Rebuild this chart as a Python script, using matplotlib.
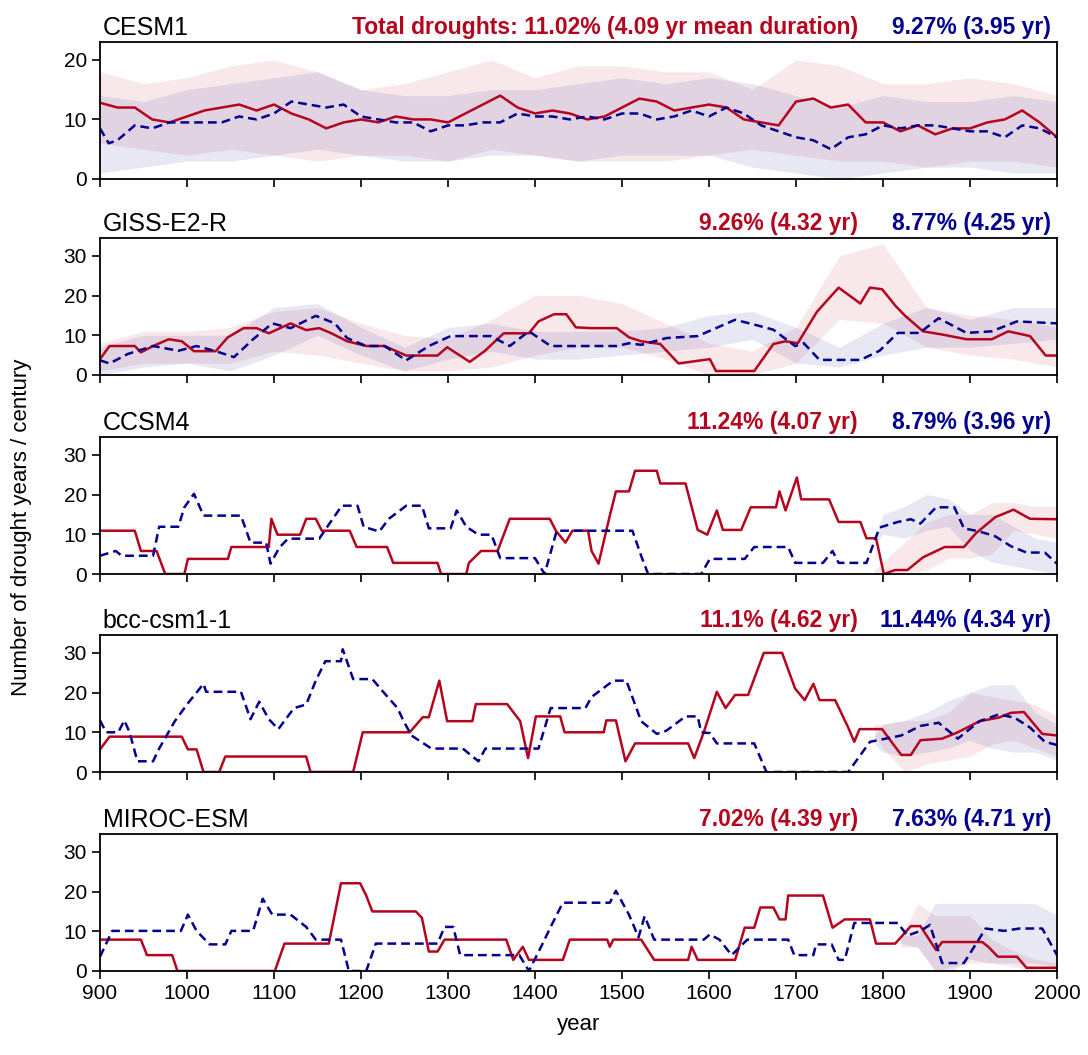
"""Drought years per century, five last-millennium models"""
import numpy as np, matplotlib
matplotlib.use('Agg')
import matplotlib.pyplot as plt
plt.rcParams.update({'font.family':['Liberation Sans','DejaVu Sans'],'font.size':15,'axes.linewidth':1.3})
RED='#b5051e'; BLUE='#02028f'

# ---- data: (year, value) vertices ----
cesm_red=[(900,12.8),(920,12),(940,12),(960,10),(980,9.5),(1000,10.5),(1020,11.5),(1040,12),(1060,12.5),(1080,11.5),(1100,12.5),(1120,11),(1140,10),(1160,8.5),(1180,9.5),(1200,10),(1220,9.5),(1240,10.5),(1260,10),(1280,10),(1300,9.5),(1320,11),(1340,12.5),(1360,14),(1380,12),(1400,11),(1420,11.5),(1440,11),(1460,10),(1480,10.5),(1500,12),(1520,13.5),(1540,13),(1560,11.5),(1580,12),(1600,12.5),(1620,12),(1640,10),(1660,9.5),(1680,9),(1700,13),(1720,13.5),(1740,12),(1760,12.5),(1780,9.5),(1800,9.5),(1820,8),(1840,9),(1860,7.5),(1880,8.5),(1900,8.5),(1920,9.5),(1940,10),(1960,11.5),(1980,9.5),(2000,7)]
cesm_blue=[(900,8.5),(910,6),(920,6.5),(940,9),(960,8.5),(980,9.5),(1000,9.5),(1020,9.5),(1040,9.5),(1060,10.5),(1080,10),(1100,11),(1120,13),(1140,12.5),(1160,12),(1180,12.5),(1200,10.5),(1220,10),(1240,9.5),(1260,9.5),(1280,8),(1300,9),(1320,9),(1340,9.5),(1360,9.5),(1380,11),(1400,10.5),(1420,10.5),(1440,10),(1460,10.5),(1480,10),(1500,11),(1520,11),(1540,10),(1560,10.5),(1580,11.5),(1600,10.5),(1620,12),(1640,11),(1660,9),(1680,8),(1700,7),(1720,6.5),(1740,5),(1760,7),(1780,7.5),(1800,9),(1820,8.5),(1840,9),(1860,9),(1880,8.5),(1900,8),(1920,8),(1940,7),(1960,9),(1980,8.5),(2000,7)]
band_yr=list(range(900,2001,50))
cesm_red_hi=[18,16,17,19,20,18,15,16,18,20,17,19,19,18,18,15,20,19,16,16,17,16,14]
cesm_red_lo=[6,5,4,5,4,3,4,4,3,5,4,3,3,3,4,5,4,3,3,2,3,3,2]
cesm_blue_hi=[14,13,15,16,17,18,15,14,14,15,15,16,17,16,17,16,14,12,14,13,13,14,13]
cesm_blue_lo=[1,2,3,3,4,5,4,3,3,4,4,3,4,4,4,2,1,0,1,2,2,1,1]

giss_red=[(900,4),(911,7.3),(940,7.3),(947,5.7),(961,7.3),(979,9),(994,8.5),(1008,6),(1033,6),(1047,9.5),(1065,11.8),(1080,11.8),(1094,10.5),(1119,13),(1137,11.3),(1152,11.8),(1166,10.5),(1184,8.5),(1206,7.3),(1227,7.3),(1252,4.9),(1288,4.9),(1299,7),(1325,3.3),(1342,6),(1364,10.5),(1393,10.5),(1404,13.5),(1422,15.3),(1436,15.3),(1447,12),(1465,11.8),(1494,11.8),(1508,9.5),(1522,8.5),(1544,7.8),(1565,2.9),(1601,4),(1608,1),(1652,1),(1674,7.8),(1688,8.5),(1702,8),(1724,15.9),(1749,22),(1774,18),(1785,22),(1799,21.6),(1814,17.5),(1825,15),(1846,11),(1868,10.2),(1896,9),(1925,9),(1944,11),(1969,9.8),(1987,4.9),(2000,4.9)]
giss_blue=[(900,3.7),(911,2.9),(932,5.3),(961,7.3),(990,6.1),(1011,7.3),(1033,6),(1054,4.5),(1076,9),(1098,13),(1119,11.8),(1148,14.9),(1170,13),(1184,9.3),(1206,7.3),(1227,7.3),(1252,3.7),(1278,7.3),(1303,9.8),(1349,9.8),(1371,7.3),(1393,11),(1418,7.3),(1494,7.3),(1508,8),(1522,7.6),(1551,9.3),(1587,9.8),(1630,13.9),(1652,12.7),(1674,11.4),(1699,7.3),(1709,8),(1727,3.8),(1774,3.8),(1796,6.1),(1817,10.6),(1842,10.6),(1864,14.3),(1896,10.6),(1925,11),(1954,13.5),(2000,13)]
giss_red_hi=[8,11,11,12,16,17,13,10,9,14,20,20,18,13,8,6,12,30,33,17,15,14,12]
giss_red_lo=[1,3,3,3,6,5,3,1,1,2,5,7,7,4,0,0,3,14,13,7,5,4,2]
giss_blue_hi=[7,10,10,10,17,18,12,7,12,13,11,11,11,12,15,16,12,7,13,17,14,17,17]
giss_blue_lo=[0,2,3,1,5,10,5,1,4,6,4,4,5,6,7,9,3,2,5,7,7,8,9]

ccsm_red=[(900,10.9),(940,10.9),(947,5.8),(965,5.8),(975,0),(997,0),(1001,3.8),(1047,3.8),(1051,6.8),(1094,6.8),(1097,13.9),(1104,9.9),(1130,9.9),(1137,13.9),(1148,13.9),(1155,10.9),(1187,10.9),(1195,6.8),(1230,6.8),(1237,2.8),(1288,2.8),(1292,0),(1321,0),(1324,2.8),(1338,5.8),(1357,5.8),(1371,13.9),(1417,13.9),(1424,10.9),(1435,7.9),(1443,10.9),(1461,10.9),(1465,5.8),(1473,2.6),(1486,14.7),(1493,20.8),(1508,20.8),(1515,26),(1540,26),(1544,22.8),(1573,22.8),(1587,11.1),(1598,9.9),(1609,16),(1616,11.1),(1637,11.1),(1648,16.8),(1677,16.8),(1681,20.8),(1688,16),(1701,24.3),(1706,18.8),(1738,18.8),(1749,13.1),(1774,13.1),(1781,9),(1792,9),(1801,0),(1814,1),(1828,1),(1846,4.2),(1871,6.8),(1893,6.8),(1907,10.3),(1929,14.3),(1950,16.2),(1969,13.9),(2000,13.8)]
ccsm_blue=[(900,4.6),(918,5.8),(925,4.6),(961,4.6),(968,11.9),(990,11.9),(997,16.8),(1008,20.2),(1019,14.7),(1062,14.7),(1073,7.9),(1091,7.9),(1096,2.6),(1106,6.6),(1116,8.9),(1152,8.9),(1160,11.5),(1178,17.2),(1196,17.2),(1203,11.9),(1221,10.7),(1232,13.9),(1252,17.2),(1270,17.2),(1278,11.5),(1303,11.5),(1310,16),(1321,11.9),(1335,9.9),(1350,9.9),(1360,4),(1400,4),(1411,0),(1425,10.9),(1512,10.9),(1522,4.6),(1530,0),(1591,0),(1601,3.8),(1641,3.8),(1652,6.8),(1691,6.8),(1699,2.8),(1731,2.8),(1742,5.8),(1749,2.8),(1781,2.8),(1796,11.7),(1817,13.1),(1832,13.8),(1843,12.7),(1861,16.8),(1882,16.8),(1893,11.5),(1911,10.7),(1929,9.5),(1947,7),(1965,5.4),(1986,5.4),(2000,2.6)]
late_yr=[1790,1800,1825,1850,1875,1900,1925,1950,1975,2000]
ccsm_red_hi=[1,3,8,13,15,15,18,18,17,17]
ccsm_red_lo=[0,0,0,1,4,4,5,11,10,9]
ccsm_blue_hi=[9,15,17,20,19,15,15,12,9,8]
ccsm_blue_lo=[7,10,9,11,12,6,3,2,1,0]

bcc_red=[(900,5.7),(911,8.9),(994,8.9),(1001,5.7),(1011,5.7),(1019,0),(1037,0),(1044,3.9),(1137,3.9),(1142,0),(1191,0),(1202,10),(1256,10),(1271,13.8),(1278,13.8),(1290,23),(1299,12.8),(1328,12.8),(1332,17.1),(1368,17.1),(1383,12.8),(1392,3.5),(1401,14),(1429,14),(1434,10),(1479,10),(1482,13),(1493,13),(1504,2.7),(1515,7.2),(1576,7.2),(1583,3.5),(1594,10),(1609,20.2),(1619,16.1),(1630,19.4),(1645,19.4),(1663,30),(1684,30),(1699,21),(1710,18.1),(1720,22.2),(1727,18.1),(1745,18.1),(1760,11.2),(1767,7.6),(1773,10.8),(1799,10.8),(1807,8.4),(1821,4.3),(1832,4.3),(1843,8),(1868,8.4),(1886,10),(1911,12.8),(1933,13.7),(1947,14.9),(1962,15.1),(1983,9.6),(2000,9.2)]
bcc_blue=[(900,13),(907,10),(921,10),(928,13),(934,10),(943,2.7),(961,2.7),(968,5.9),(986,12.8),(1001,17.3),(1019,22.2),(1022,20.2),(1062,20.2),(1073,13.3),(1083,17.7),(1094,13.3),(1105,10.8),(1123,16.1),(1137,17),(1148,23),(1159,27.9),(1177,27.9),(1179,30.9),(1191,23.4),(1213,23.4),(1227,19.8),(1242,16.1),(1249,12.8),(1258,9.2),(1281,5.9),(1317,5.9),(1335,2.7),(1343,5.9),(1404,5.9),(1418,16.1),(1458,16.1),(1465,18.9),(1490,23),(1505,23),(1522,12.8),(1540,9.6),(1551,10.4),(1573,14),(1587,14),(1591,10),(1601,9.8),(1609,7.2),(1652,7.2),(1666,0),(1760,0),(1785,7.6),(1803,8.4),(1821,9.2),(1843,11.6),(1864,12.4),(1886,8.4),(1911,12.8),(1933,14.5),(1951,13.7),(1969,11.2),(1986,7.6),(2000,6.8)]
bcc_red_hi=[12,12,13,13,15,20,19,18,17,14]
bcc_red_lo=[9,6,0,2,3,4,7,8,6,4]
bcc_blue_hi=[9,12,13,15,18,20,22,22,15,12]
bcc_blue_lo=[7,5,4,5,6,8,6,5,5,3]

miroc_red=[(900,7.9),(947,7.9),(954,4),(983,4),(989,0),(1101,0),(1112,6.9),(1163,6.9),(1177,22.1),(1199,22.1),(1206,19),(1213,15),(1263,15),(1270,13.4),(1278,4.9),(1288,4.9),(1296,7.9),(1367,7.9),(1375,2.8),(1386,6.1),(1393,2.8),(1432,2.8),(1440,7.9),(1483,7.9),(1486,6.1),(1490,7.9),(1522,7.9),(1537,2.8),(1576,2.8),(1580,6.1),(1587,2.8),(1630,2.8),(1641,10.9),(1652,10.9),(1659,16),(1674,16),(1681,13),(1688,13),(1691,19),(1731,19),(1742,10.9),(1756,13),(1785,13),(1792,6.9),(1814,6.9),(1832,11.3),(1843,11.3),(1861,5.3),(1868,7.3),(1914,7.3),(1921,6.1),(1932,3.6),(1954,3.6),(1965,0.8),(2000,0.8)]
miroc_blue=[(900,3.6),(914,10.1),(993,10.1),(1001,14.2),(1011,10.1),(1026,6.7),(1044,6.7),(1051,10.1),(1076,10.1),(1087,18.2),(1098,14.2),(1119,14.2),(1137,11.1),(1148,7.9),(1177,7.9),(1186,0),(1206,0),(1217,6.9),(1288,6.9),(1296,11.1),(1306,11.1),(1314,4),(1382,4),(1393,0),(1407,6.1),(1418,11.1),(1432,17.2),(1486,17.2),(1493,20.2),(1508,14.2),(1519,8.5),(1526,13.8),(1537,7.9),(1594,7.9),(1601,9.2),(1612,7.9),(1626,4),(1644,7.9),(1691,7.9),(1698,4),(1720,4),(1723,6.7),(1741,6.7),(1749,2.8),(1756,2.8),(1767,12.1),(1817,12.1),(1828,8.9),(1843,10.1),(1854,11.6),(1868,2),(1893,2),(1918,10.7),(1939,10.1),(1957,10.7),(1983,10.7),(2000,4)]
miroc_yr=[1820,1840,1860,1880,1900,1925,1950,1975,2000]
miroc_red_hi=[8,17,14,14,14,8,5,3,2]
miroc_red_lo=[6,6,0,1,2,2,1,0,0]
miroc_blue_hi=[9,9,17,17,17,17,17,17,14]
miroc_blue_lo=[7,6,0,0,3,2,2,2,1]

models=['CESM1','GISS-E2-R','CCSM4','bcc-csm1-1','MIROC-ESM']
red_stats=['Total droughts: 11.02% (4.09 yr mean duration)','9.26% (4.32 yr)','11.24% (4.07 yr)','11.1% (4.62 yr)','7.02% (4.39 yr)']
blue_stats=['9.27% (3.95 yr)','8.77% (4.25 yr)','8.79% (3.96 yr)','11.44% (4.34 yr)','7.63% (4.71 yr)']
panels=[(cesm_red,cesm_blue,band_yr,cesm_red_hi,cesm_red_lo,cesm_blue_hi,cesm_blue_lo,23),
        (giss_red,giss_blue,band_yr,giss_red_hi,giss_red_lo,giss_blue_hi,giss_blue_lo,34.5),
        (ccsm_red,ccsm_blue,late_yr,ccsm_red_hi,ccsm_red_lo,ccsm_blue_hi,ccsm_blue_lo,34.5),
        (bcc_red,bcc_blue,late_yr,bcc_red_hi,bcc_red_lo,bcc_blue_hi,bcc_blue_lo,34.5),
        (miroc_red,miroc_blue,miroc_yr,miroc_red_hi,miroc_red_lo,miroc_blue_hi,miroc_blue_lo,34.5)]

W,H=1088,1055
fig=plt.figure(figsize=(W/100,H/100),dpi=100)
tops=[42,238,437,635,834]
for i,(r,b,byr,rh,rl,bh,bl,ymax) in enumerate(panels):
    ax=fig.add_axes([100/W,1-(tops[i]+137)/H,957/W,137/H])
    ax.fill_between(byr,rl,rh,color=RED,alpha=0.09,lw=0)
    ax.fill_between(byr,bl,bh,color=BLUE,alpha=0.09,lw=0)
    ry,rv=zip(*r); by,bv=zip(*b)
    ax.plot(ry,rv,color=RED,lw=1.8)
    ax.plot(by,bv,color=BLUE,lw=1.8,ls=(0,(3.5,2)))
    ax.set_xlim(900,2000); ax.set_ylim(0,ymax)
    ax.set_xticks(range(900,2001,100))
    ax.set_yticks([0,10,20] if i==0 else [0,10,20,30])
    ax.tick_params(direction='out',length=6,width=1.2,labelsize=15)
    if i<4: ax.set_xticklabels([])
    ax.text(0.003,1.015,models[i],transform=ax.transAxes,fontsize=18,va='bottom',ha='left')
    ax.text(0.792,1.02,red_stats[i],transform=ax.transAxes,fontsize=16.5,va='bottom',ha='right',color=RED,fontweight='bold')
    ax.text(0.994,1.02,blue_stats[i],transform=ax.transAxes,fontsize=16.5,va='bottom',ha='right',color=BLUE,fontweight='bold')
    if i==4: ax.set_xlabel('year',fontsize=16,labelpad=8)
fig.text(0.02,0.5,'Number of drought years / century',rotation=90,va='center',ha='center',fontsize=16)
fig.savefig('out.png',dpi=100)
